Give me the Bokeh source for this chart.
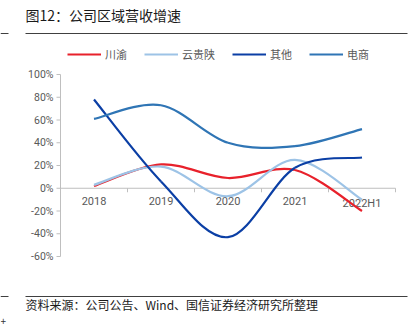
from bokeh.plotting import figure
from bokeh.models import Range1d, Label, Arrow, Legend, LegendItem, ColumnDataSource
from bokeh.core.properties import value
from bokeh.embed import file_html
from bokeh.resources import INLINE

# ---- data ----
categories = ["2018", "2019", "2020", "2021", "2022H1"]
chuanyu = [2, 21, 9, 16, -20]
yunguishan = [3, 19, -7, 25, -10]
qita = [78, 6, -43, 18, 27]
dianshang = [61, 73, 40, 37, 52]
series_names = ["川渝", "云贵陕", "其他", "电商"]
y_ticks = [-60, -40, -20, 0, 20, 40, 60, 80, 100]
title_text = "图12：公司区域营收增速"
source_text = "资料来源：公司公告、Wind、国信证券经济研究所整理"

colors = ["#E8212B", "#9DC3E6", "#0B3FA5", "#2F75B5"]
FONT = "Noto Sans CJK SC"
TICKFONT = "Roboto"
AXIS_COLOR = "#BFBFBF"
LABEL_COLOR = "#595959"

# ---- layout in pixels ----
W, H = 420, 329
PL, PR, PT, PB = 60, 395, 74, 256   # plot area on the canvas
ymin, ymax = y_ticks[0], y_ticks[-1]
n = len(categories)

# data units per pixel
dx = n / (PR - PL)
dy = (ymax - ymin) / (PB - PT)
x0 = -0.5 - PL * dx
x1 = -0.5 + (W - PL) * dx
y0 = ymin - (H - PB) * dy
y1 = ymin + PB * dy

p = figure(width=W, height=H, output_backend="svg", toolbar_location=None,
           x_range=Range1d(x0, x1), y_range=Range1d(y0, y1),
           x_axis_location=None, y_axis_location=None, min_border=0)
p.outline_line_color = None
p.xgrid.visible = False
p.ygrid.visible = False
p.background_fill_color = "white"
p.border_fill_color = "white"

# ---- y axis (drawn) ----
p.segment(x0=[-0.5], y0=[ymin], x1=[-0.5], y1=[ymax], line_color=AXIS_COLOR, line_width=1)
p.segment(x0=[-0.5] * len(y_ticks), y0=y_ticks, x1=[-0.5 - 4 * dx] * len(y_ticks), y1=y_ticks,
          line_color=AXIS_COLOR, line_width=1)
p.text(x=[-0.5] * len(y_ticks), y=y_ticks, text=[f"{t}%" for t in y_ticks],
       x_offset=-7, text_align="right", text_baseline="middle",
       text_font=value(TICKFONT), text_font_size="10.5px", text_color=LABEL_COLOR)

# ---- x axis at zero ----
p.segment(x0=[-0.5], y0=[0], x1=[n - 0.5], y1=[0], line_color=AXIS_COLOR, line_width=1)
bounds = [i - 0.5 for i in range(n + 1)]
p.segment(x0=bounds, y0=[0] * len(bounds), x1=bounds, y1=[-4 * dy] * len(bounds),
          line_color=AXIS_COLOR, line_width=1)
p.text(x=list(range(n)), y=[0] * n, text=categories,
       y_offset=9, text_baseline="top", text_align="center",
       text_font=value(TICKFONT), text_font_size="11px", text_color=LABEL_COLOR)


def bezier_source(ys):
    m = len(ys)
    xs = list(range(m))

    def P(i):
        i = max(0, min(m - 1, i))
        return xs[i], ys[i]
    d = dict(x0=[], y0=[], x1=[], y1=[], cx0=[], cy0=[], cx1=[], cy1=[])
    for i in range(m - 1):
        xa, ya = P(i)
        xb, yb = P(i + 1)
        xp, yp = P(i - 1)
        xn, yn = P(i + 2)
        d["x0"].append(xa); d["y0"].append(ya)
        d["x1"].append(xb); d["y1"].append(yb)
        d["cx0"].append(xa + (xb - xp) / 6); d["cy0"].append(ya + (yb - yp) / 6)
        d["cx1"].append(xb - (xn - xa) / 6); d["cy1"].append(yb - (yn - ya) / 6)
    return ColumnDataSource(d)


items = []
for name, ys, c in zip(series_names, [chuanyu, yunguishan, qita, dianshang], colors):
    r = p.bezier(x0="x0", y0="y0", x1="x1", y1="y1", cx0="cx0", cy0="cy0",
                 cx1="cx1", cy1="cy1", source=bezier_source(ys),
                 line_color=c, line_width=2.2)
    items.append(LegendItem(label=name, renderers=[r]))

legend_h = 12
legend = Legend(items=items, orientation="horizontal",
                location=(67, H - (56 + legend_h / 2)),
                glyph_width=34, glyph_height=legend_h, label_height=legend_h,
                label_standoff=4, spacing=17, padding=0, margin=0,
                border_line_color=None, background_fill_alpha=0,
                label_text_font=FONT, label_text_font_size="11px",
                label_text_color=LABEL_COLOR)
p.add_layout(legend, "center")


def sy(y):
    return H - y


p.add_layout(Label(x=25, y=sy(14), x_units="screen", y_units="screen",
                   text=title_text, text_font=FONT, text_font_size="14px",
                   text_color="#1a1a1a", text_baseline="middle"))
p.add_layout(Label(x=25, y=sy(304), x_units="screen", y_units="screen",
                   text=source_text, text_font=FONT, text_font_size="12px",
                   text_color="#1a1a1a", text_baseline="middle"))
p.add_layout(Label(x=0, y=sy(320), x_units="screen", y_units="screen",
                   text="+", text_font=FONT, text_font_size="10px",
                   text_color="#333333", text_baseline="middle"))

for yy in (33, 296):
    for xa, xb in ((0, 8), (25, 407)):
        p.add_layout(Arrow(x_start=xa, y_start=sy(yy), x_end=xb, y_end=sy(yy),
                           start_units="screen", end_units="screen", end=None,
                           line_color="#404040", line_width=1))

open("out.html", "w").write(file_html(p, INLINE))
